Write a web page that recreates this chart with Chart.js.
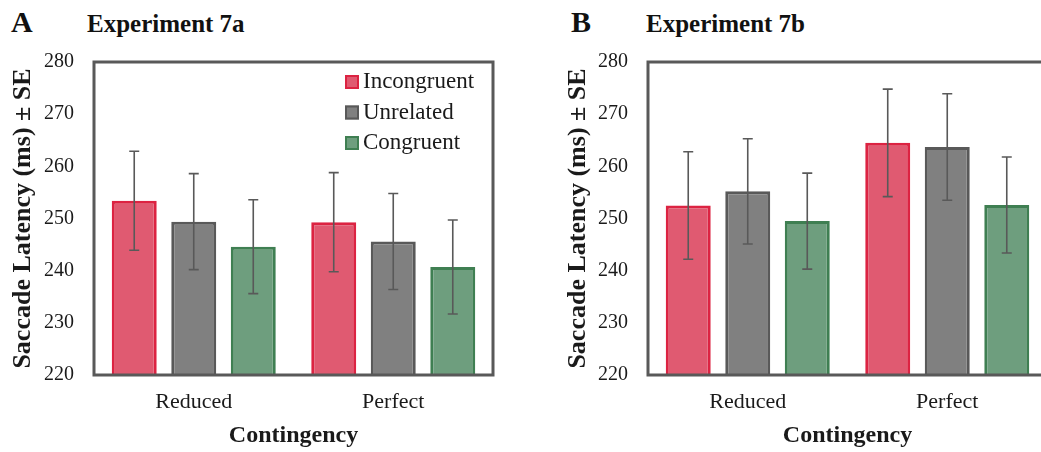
<!DOCTYPE html>
<html>
<head>
<meta charset="utf-8">
<script src="https://cdn.jsdelivr.net/npm/chart.js@4"></script>
<style>
  html, body { margin: 0; padding: 0; background: #fff; overflow: hidden; }
  #page { position: relative; width: 1041px; height: 452px; overflow: hidden; background: #fff; }
  .panel { position: absolute; top: 0; height: 452px; }
  .tag { position: absolute; font-family: "Liberation Serif", "Times New Roman", serif; font-weight: bold; color: #111; white-space: nowrap; }
  .letter { font-size: 30px; line-height: 30px; }
  .exp { font-size: 25px; line-height: 25px; }
</style>
</head>
<body>
<div id="page">
  <div class="tag letter" style="left:11px; top:7px;">A</div>
  <div class="tag exp" style="left:87px; top:11px;">Experiment 7a</div>
  <div class="tag letter" style="left:571px; top:7px;">B</div>
  <div class="tag exp" style="left:646px; top:11px;">Experiment 7b</div>
  <div class="panel" style="left:0; width:520px;"><canvas id="chartA" width="520" height="452"></canvas></div>
  <div class="panel" style="left:555px; width:500px;"><canvas id="chartB" width="500" height="452"></canvas></div>
</div>
<script>
// Categories and series
const categories = ["Reduced", "Perfect"];
const seriesNames = ["Incongruent", "Unrelated", "Congruent"];

// Experiment 7a: mean saccade latency (ms) and standard error
const exp7aIncongruent = [253.4, 249.3];
const exp7aUnrelated   = [249.4, 245.6];
const exp7aCongruent   = [244.6, 240.7];
const exp7aIncongruentSE = [9.5, 9.5];
const exp7aUnrelatedSE   = [9.2, 9.2];
const exp7aCongruentSE   = [9.0, 9.0];

// Experiment 7b: mean saccade latency (ms) and standard error
const exp7bIncongruent = [252.5, 264.5];
const exp7bUnrelated   = [255.2, 263.7];
const exp7bCongruent   = [249.5, 252.6];
const exp7bIncongruentSE = [10.3, 10.3];
const exp7bUnrelatedSE   = [10.1, 10.2];
const exp7bCongruentSE   = [9.2, 9.2];

// Y axis
const yMin = 220;
const yMax = 280;
const yStep = 10;

const fills   = ["#e05a71", "#808080", "#6e9e7e"];
const borders = ["#dc2342", "#595959", "#3f7f52"];
const FONT = '"Liberation Serif", "Times New Roman", serif';
const INK = "#1a1a1a";
const FRAME = "#595959";

// Error bars (mean ± SE) drawn through each bar's own scale
const errorBarPlugin = {
  id: "errorBars",
  afterDatasetsDraw(chart) {
    const ctx = chart.ctx;
    const y = chart.scales.y;
    ctx.save();
    ctx.strokeStyle = "#595959";
    ctx.lineWidth = 1.6;
    chart.data.datasets.forEach((ds, di) => {
      const meta = chart.getDatasetMeta(di);
      meta.data.forEach((bar, i) => {
        const v = ds.data[i], se = ds.errors[i];
        const top = y.getPixelForValue(v + se);
        const bot = y.getPixelForValue(v - se);
        const x = bar.x;
        ctx.beginPath();
        ctx.moveTo(x, top); ctx.lineTo(x, bot);
        ctx.moveTo(x - 5, top); ctx.lineTo(x + 5, top);
        ctx.moveTo(x - 5, bot); ctx.lineTo(x + 5, bot);
        ctx.stroke();
      });
    });
    ctx.restore();
  }
};

// Frame around the plot area
const framePlugin = {
  id: "frame",
  afterDraw(chart) {
    const a = chart.chartArea;
    const ctx = chart.ctx;
    ctx.save();
    ctx.strokeStyle = FRAME;
    ctx.lineWidth = 3;
    ctx.strokeRect(a.left, a.top, a.right - a.left, a.bottom - a.top);
    ctx.restore();
  }
};

// Legend drawn inside the plot area, upper right
const insideLegendPlugin = {
  id: "insideLegend",
  afterDraw(chart, args, opts) {
    if (!opts.show) return;
    const a = chart.chartArea;
    const ctx = chart.ctx;
    ctx.save();
    chart.data.datasets.forEach((ds, i) => {
      const cy = a.top + 20 + i * 30.5;
      const sx = a.left + 251;
      ctx.fillStyle = ds.backgroundColor;
      ctx.fillRect(sx, cy - 7, 14, 14);
      ctx.strokeStyle = ds.borderColor;
      ctx.lineWidth = 2;
      ctx.strokeRect(sx + 1, cy - 6, 12, 12);
      ctx.fillStyle = INK;
      ctx.font = "23px " + FONT;
      ctx.textAlign = "left";
      ctx.textBaseline = "middle";
      ctx.fillText(ds.label, sx + 18, cy);
    });
    ctx.restore();
  }
};

function makeChart(id, values, errors, showLegend, rightPad, yWidth) {
  const datasets = seriesNames.map((name, i) => ({
    label: name,
    data: values[i],
    errors: errors[i],
    backgroundColor: fills[i],
    borderColor: borders[i],
    borderWidth: 3,
    borderSkipped: false,
    barPercentage: 0.756,
    categoryPercentage: 0.895
  }));
  return new Chart(document.getElementById(id), {
    type: "bar",
    data: { labels: categories, datasets },
    plugins: [errorBarPlugin, framePlugin, insideLegendPlugin],
    options: {
      responsive: false,
      animation: false,
      layout: { padding: { left: 0, right: rightPad, top: 62, bottom: 0 } },
      plugins: {
        legend: { display: false },
        tooltip: { enabled: false },
        insideLegend: { show: showLegend }
      },
      scales: {
        x: {
          grid: { display: false, drawTicks: false },
          border: { display: false },
          ticks: { color: INK, font: { family: FONT, size: 22 }, padding: 14 },
          title: { display: true, text: "Contingency", color: INK,
                   font: { family: FONT, size: 24, weight: "bold" }, padding: { top: 0, bottom: 2 } },
          afterFit(scale) { scale.height = 77; }
        },
        y: {
          min: yMin, max: yMax,
          grid: { display: false, drawTicks: false },
          border: { display: false },
          ticks: { stepSize: yStep, color: INK, font: { family: FONT, size: 20 }, padding: 20 },
          title: { display: true, text: "Saccade Latency (ms) ± SE", color: INK,
                   font: { family: FONT, size: 26, weight: "bold" }, padding: { top: 8, bottom: 0 } },
          afterFit(scale) { scale.width = yWidth; }
        }
      }
    }
  });
}

makeChart("chartA",
  [exp7aIncongruent, exp7aUnrelated, exp7aCongruent],
  [exp7aIncongruentSE, exp7aUnrelatedSE, exp7aCongruentSE],
  true, 27, 94);

makeChart("chartB",
  [exp7bIncongruent, exp7bUnrelated, exp7bCongruent],
  [exp7bIncongruentSE, exp7bUnrelatedSE, exp7bCongruentSE],
  false, 8, 93);
</script>
</body>
</html>
